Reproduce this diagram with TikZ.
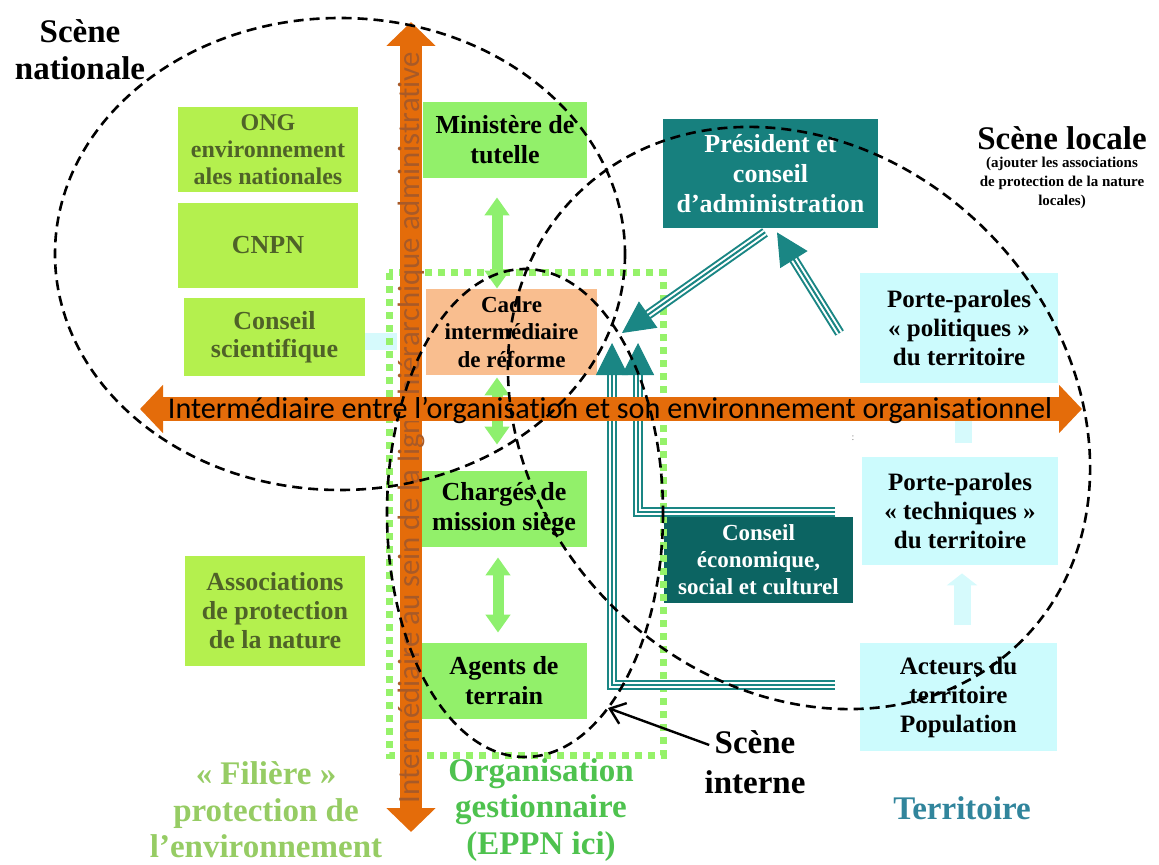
\documentclass[tikz,border=0pt]{standalone}
\usepackage{graphicx}
\usepackage{fontspec}
\setmainfont{Liberation Serif}
\newfontfamily\carl[Ligatures={NoCommon}]{Carlito}
\usetikzlibrary{arrows.meta}
\definecolor{orA}{HTML}{E46C0A}
\definecolor{vtxt}{HTML}{A85A28}
\definecolor{limeF}{HTML}{B4F04E}
\definecolor{limeT}{HTML}{4F6228}
\definecolor{grnF}{HTML}{92F06A}
\definecolor{grnA}{HTML}{8EF06E}
\definecolor{peach}{HTML}{F9BE8F}
\definecolor{tealP}{HTML}{17807E}
\definecolor{tealC}{HTML}{0C6462}
\definecolor{tealL}{HTML}{1A8684}
\definecolor{cyanF}{HTML}{CCFBFD}
\definecolor{cyanA}{HTML}{D6FAFC}
\definecolor{dotG}{HTML}{96F26A}
\definecolor{filG}{HTML}{96CC64}
\definecolor{orgG}{HTML}{4EC24E}
\definecolor{terT}{HTML}{31859C}
\newcommand{\setfs}[2]{\fontsize{#1}{#2}\selectfont}
\newcommand{\triarrow}[1]{%
  \draw[tealL, line width=5pt, line join=miter, shorten >=13pt] #1;
  \draw[white, line width=3pt, line join=miter, shorten >=12pt] #1;
  \draw[tealL, line width=1pt, line join=miter, shorten >=12pt] #1;
  \draw[tealL, line width=0.5pt, -{Triangle[length=16pt,width=16pt]}] #1;}
\begin{document}
\begin{tikzpicture}[x=0.5pt,y=-0.5pt,
  bx/.style={inner sep=0pt, align=center},
  lbox/.style={bx, fill=limeF, text=limeT, font=\bfseries\setfs{13}{14.5}},
  gbox/.style={bx, fill=grnF, text=black, font=\bfseries\setfs{13}{15}},
  cbox/.style={bx, fill=cyanF, text=black, font=\bfseries\setfs{12.5}{14.5}},
  tbox/.style={bx, text=white, font=\bfseries\setfs{13}{15}},
  dashE/.style={draw=black, line width=1.3pt, dash pattern=on 5pt off 3pt},
  garr/.style={draw=grnA, line width=5.5pt, {Triangle[length=9pt,width=12pt]}-{Triangle[length=9pt,width=12pt]}},
  carr/.style={draw=cyanA, line width=8.5pt, -{Triangle[length=6pt,width=15pt]}},
  lab/.style={align=center, inner sep=0pt, font=\bfseries\setfs{16.5}{18.3}},
]
\useasboundingbox (0,0) rectangle (1159,865);
% boxes
\node[lbox, minimum width=90pt, minimum height=42.5pt, font=\bfseries\setfs{12}{13.5}] (ong) at (268,149.5) {ONG\\environnement\\ales nationales};
\node[lbox, minimum width=90pt, minimum height=42.5pt] (cnpn) at (268,245.5) {CNPN};
\node[lbox, minimum width=90.5pt, minimum height=39pt, font=\bfseries\setfs{13}{14}] (cs) at (274.5,337) {Conseil\\scientifique};
\node[lbox, minimum width=90pt, minimum height=55pt] (assoc) at (275,611) {Associations\\de protection\\de la nature};
\node[gbox, minimum width=82pt, minimum height=38pt] (min) at (505,140) {Minist\`ere de\\tutelle};
\node[bx, fill=peach, minimum width=85.5pt, minimum height=43pt, font=\bfseries\setfs{11.5}{13.7}] (cadre) at (511.5,332) {Cadre\\interm\'ediaire\\de r\'eforme};
\node[gbox, minimum width=83pt, minimum height=38pt] (charges) at (504,509) {Charg\'es de\\mission si\`ege};
\node[gbox, minimum width=83pt, minimum height=38pt] (agents) at (504,681) {Agents de\\terrain};
\node[tbox, fill=tealP, minimum width=107.5pt, minimum height=54.5pt] (pres) at (770.5,173.5) {Pr\'esident et\\conseil\\d’administration};
\node[cbox, minimum width=99pt, minimum height=55pt] (ppp) at (959,328) {Porte-paroles\\« politiques »\\du territoire};
\node[cbox, minimum width=98pt, minimum height=54pt] (ppt) at (960,511) {Porte-paroles\\« techniques »\\du territoire};
\node[cbox, minimum width=98.5pt, minimum height=54pt] (act) at (958.5,697) {Acteurs du\\territoire\\Population};
\node[tbox, fill=tealC, minimum width=94.5pt, minimum height=43pt, font=\bfseries\setfs{11.5}{13.5}] (ces) at (758.5,560) {Conseil\\\'economique,\\social et culturel};
% small arrows
\fill[cyanA] (365,333) rectangle (397,350);
\draw[garr, shorten <=9.5pt] ([xshift=-4pt]min.south) -- ([xshift=-7.25pt]cadre.north);
\draw[garr, shorten <=1pt, shorten >=13pt] ([xshift=-7.25pt]cadre.south) -- ([xshift=-3.5pt]charges.north);
\draw[garr, shorten <=5pt, shorten >=5pt] ([xshift=-3pt]charges.south) -- ([xshift=-3pt]agents.north);
\draw[carr, shorten <=9pt, shorten >=4pt] ([xshift=1.75pt]act.north) -- ([xshift=1pt]ppt.south);
\draw[carr, shorten <=7pt, shorten >=8.5pt] ([xshift=1.75pt]ppt.north) -- ([xshift=2.25pt]ppp.south);
\node[inner sep=0pt, text=gray, font=\setfs{5}{5}] (dots) at (853,438) {:};
% dotted organisation frame
\draw[dotG, line width=3.5pt, dash pattern=on 3.5pt off 3pt] (389,273) rectangle (663,755);
% teal arrows
\coordinate (a1s) at ([xshift=-2.75pt,yshift=-2pt]pres.south);
\coordinate (a1t) at (622,333);
\coordinate (a2s) at ([xshift=-10pt,yshift=-2.5pt]ppp.west);
\coordinate (a2t) at ([xshift=3.25pt,yshift=-2pt]pres.south);
\coordinate (a3s) at ([xshift=-12.5pt,yshift=6pt]act.west);
\coordinate (a3t) at (612,343);
\coordinate (a4s) at ([xshift=-9pt,yshift=2.5pt]ces.north east);
\coordinate (a4t) at (638,343);
\triarrow{(a1s) -- (a1t)}
\triarrow{(a2s) -- (a2t)}
\triarrow{(a3s) -- (a3t |- a3s) -- (a3t)}
\triarrow{(a4s) -- (a4t |- a4s) -- (a4t)}
% orange axes
\coordinate (vt) at (411,22);
\coordinate (vb) at (411,832);
\coordinate (hl) at (140,409);
\coordinate (hr) at (1082,409);
\draw[draw=orA, line width=11.25pt, {Triangle[length=12pt,width=24pt]}-{Triangle[length=12pt,width=24pt]}] (vt) -- (vb);
\node[rotate=90, anchor=base, text=vtxt, inner sep=0pt] (vtext) at (419,427.5) {\resizebox{375.5pt}{!}{\carl Interm\'ediaire au sein de la ligne hi\'erarchique administrative}};
\draw[draw=orA, line width=12pt, {Triangle[length=11.5pt,width=23.5pt]}-{Triangle[length=11.5pt,width=23.5pt]}] (hl) -- (hr);
\node[anchor=base, inner sep=0pt] (htext) at (610,418) {\resizebox{442pt}{!}{\carl Interm\'ediaire entre l’organisation et son environnement organisationnel}};
% scenes
\draw[dashE] (340,254) ellipse [x radius=285, y radius=236];
\draw[dashE, rotate around={-45:(799,418)}] (799,418) ellipse [x radius=315, y radius=265];
\draw[dashE] (525,513) ellipse [x radius=138, y radius=244];
% labels
\node[lab] (sn) at (80,50) {Sc\`ene\\nationale};
\node[lab] (sl) at (1062,138) {Sc\`ene locale};
\node[align=center, inner sep=0pt, font=\bfseries\setfs{7.5}{9.5}] (slc) at (1062,183) {(ajouter les associations\\de protection de la nature\\locales)};
\node[lab, text=filG] (fil) at (266,810) {« Fili\`ere »\\protection de\\l’environnement};
\node[lab, text=orgG] (org) at (541,810) {Organisation\\gestionnaire\\(EPPN ici)};
\node[lab, text=terT] (ter) at (962,808) {Territoire};
\node[lab, font=\bfseries\setfs{16.5}{20}] (si) at (755,762) {Sc\`ene\\interne};
\coordinate (sit) at (608,708);
\draw[line width=1.2pt, -{Straight Barb[length=7pt,width=11pt]}] ([xshift=2.5pt,yshift=-7.5pt]si.north west) -- (sit);
\end{tikzpicture}
\end{document}
